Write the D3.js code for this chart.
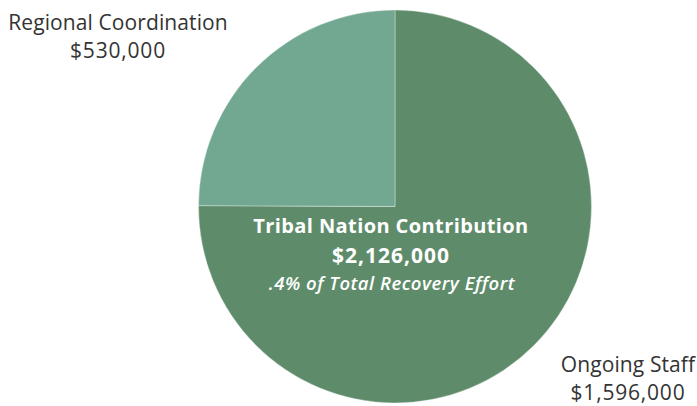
<!DOCTYPE html>
<html>
<head>
<meta charset="utf-8">
<script src="https://cdn.jsdelivr.net/npm/d3@7"></script>
<style>
  html, body { margin: 0; padding: 0; background: #fff; }
  svg { display: block; font-family: "Open Sans", "Noto Sans", sans-serif; }
</style>
</head>
<body>
<svg id="chart" width="697" height="406"></svg>
<script>
// Budget components of the tribal contribution
const categories = ["Ongoing Staff", "Regional Coordination"];
const values = [1596000, 530000];
const valueLabels = ["$1,596,000", "$530,000"];
const sliceColors = ["#5e8c6b", "#72a891"];

const totalTitle = "Tribal Nation Contribution";
const totalValue = 2126000;
const totalNote = ".4% of Total Recovery Effort";

const width = 697, height = 406;
const cx = 395, cy = 206.5, radius = 196.5;

const svg = d3.select("#chart");
const g = svg.append("g").attr("transform", `translate(${cx},${cy})`);

const pie = d3.pie().sort(null).value(d => d.value);
const arc = d3.arc().innerRadius(0).outerRadius(radius);

const data = categories.map((c, i) => ({ name: c, value: values[i], label: valueLabels[i], color: sliceColors[i] }));

g.selectAll("path.slice")
  .data(pie(data))
  .join("path")
  .attr("class", "slice")
  .attr("d", arc)
  .attr("fill", d => d.data.color)
  .attr("stroke", "rgba(255,255,255,0.35)")
  .attr("stroke-width", 1);

// Outside labels: category name above its amount
const outside = [
  { x: 118, y: 30, name: categories[1], label: valueLabels[1] },
  { x: 628, y: 372, name: categories[0], label: valueLabels[0] }
];
outside.forEach(o => {
  svg.append("text")
    .attr("x", o.x).attr("y", o.y)
    .attr("text-anchor", "middle")
    .attr("fill", "#333")
    .attr("font-size", 21)
    .attr("letter-spacing", 0.1)
    .text(o.name);
  svg.append("text")
    .attr("x", o.x).attr("y", o.y + 28)
    .attr("text-anchor", "middle")
    .attr("fill", "#333")
    .attr("font-size", 21)
    .attr("letter-spacing", 0.8)
    .text(o.label);
});

// Center summary
const fmt = d3.format("$,");
svg.append("text")
  .attr("x", 391).attr("y", 233)
  .attr("text-anchor", "middle")
  .attr("fill", "#fff").attr("font-weight", 700).attr("font-size", 20)
  .attr("letter-spacing", 0.4)
  .text(totalTitle);
svg.append("text")
  .attr("x", 391).attr("y", 263)
  .attr("text-anchor", "middle")
  .attr("fill", "#fff").attr("font-weight", 700).attr("font-size", 21)
  .attr("letter-spacing", 1)
  .text(fmt(totalValue));
svg.append("text")
  .attr("x", 392).attr("y", 290)
  .attr("text-anchor", "middle")
  .attr("fill", "#fff").attr("font-weight", 600).attr("font-style", "italic").attr("font-size", 18.5)
  .attr("letter-spacing", 0.5)
  .text(totalNote);
</script>
</body>
</html>
